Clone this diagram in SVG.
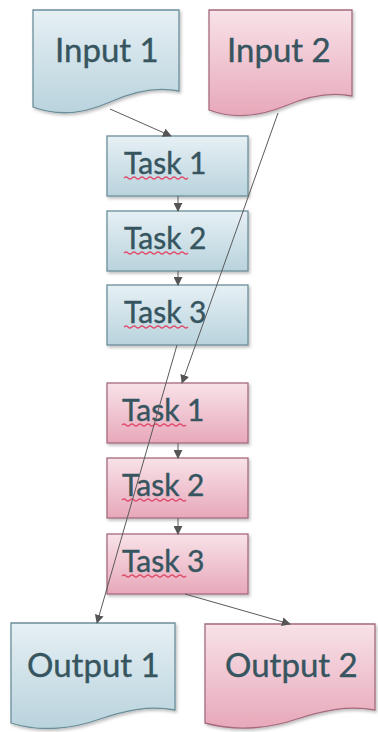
<svg xmlns="http://www.w3.org/2000/svg" width="378" height="732" viewBox="0 0 378 732">
<defs>
<linearGradient id="gb" x1="0" y1="0" x2="0" y2="1"><stop offset="0" stop-color="#e6f0f4"/><stop offset="1" stop-color="#b9d3dd"/></linearGradient>
<linearGradient id="gr" x1="0" y1="0" x2="0" y2="1"><stop offset="0" stop-color="#f8e2e8"/><stop offset="1" stop-color="#e7a8ba"/></linearGradient>
<filter id="sh" x="-10%" y="-10%" width="125%" height="125%"><feDropShadow dx="1.5" dy="2" stdDeviation="1.5" flood-color="#000" flood-opacity="0.25"/></filter>
<marker id="ah" viewBox="0 0 10 10" refX="9" refY="5" markerWidth="9" markerHeight="9" orient="auto" markerUnits="userSpaceOnUse"><path d="M0,0 L10,5 L0,10 Z" fill="#555"/></marker>
<style>
.b{fill:url(#gb);stroke:#6b8e9a;stroke-width:1.3;filter:url(#sh)}
.r{fill:url(#gr);stroke:#a56a7e;stroke-width:1.3;filter:url(#sh)}
.t{font-family:Lato,"Open Sans","Liberation Sans",sans-serif;fill:#36555f;stroke:#36555f;stroke-width:0.4}
.big{font-size:33px}
.tk{font-size:30px}
.sq{fill:none;stroke:#e0506e;stroke-width:1.4}
.c{fill:none;stroke:#5a5a5a;stroke-width:1;marker-end:url(#ah)}
</style>
</defs>
<g id="input1"><path class="b" d="M33,10 H179 V91 C155,86 132,92 110,102 C88,112 62,118 33,107 Z"/><text class="t big" x="55" y="62">Input 1</text></g>
<g id="input2"><path class="r" d="M209,10 H352 V96 C328,91 306,97 285,106 C263,115 236,120 209,110 Z"/><text class="t big" x="227" y="62">Input 2</text></g>
<g id="btask1"><rect class="b" x="107" y="136" width="141" height="60"/><text class="t tk" x="124" y="174">Task 1</text><path class="sq" d="M124,178 q2,-2 4,0 t4,0 t4,0 t4,0 t4,0 t4,0 t4,0 t4,0 t4,0 t4,0 t4,0 t4,0 t4,0 t4,0 t4,0 t4,0"/></g>
<g id="btask2"><rect class="b" x="107" y="211" width="141" height="60"/><text class="t tk" x="124" y="249">Task 2</text><path class="sq" d="M124,253 q2,-2 4,0 t4,0 t4,0 t4,0 t4,0 t4,0 t4,0 t4,0 t4,0 t4,0 t4,0 t4,0 t4,0 t4,0 t4,0 t4,0"/></g>
<g id="btask3"><rect class="b" x="107" y="285" width="141" height="60"/><text class="t tk" x="124" y="323">Task 3</text><path class="sq" d="M124,327 q2,-2 4,0 t4,0 t4,0 t4,0 t4,0 t4,0 t4,0 t4,0 t4,0 t4,0 t4,0 t4,0 t4,0 t4,0 t4,0 t4,0"/></g>
<g id="rtask1"><rect class="r" x="107" y="383" width="141" height="60"/><text class="t tk" x="122" y="421">Task 1</text><path class="sq" d="M122,425 q2,-2 4,0 t4,0 t4,0 t4,0 t4,0 t4,0 t4,0 t4,0 t4,0 t4,0 t4,0 t4,0 t4,0 t4,0 t4,0 t4,0"/></g>
<g id="rtask2"><rect class="r" x="107" y="458" width="141" height="60"/><text class="t tk" x="122" y="496">Task 2</text><path class="sq" d="M122,500 q2,-2 4,0 t4,0 t4,0 t4,0 t4,0 t4,0 t4,0 t4,0 t4,0 t4,0 t4,0 t4,0 t4,0 t4,0 t4,0 t4,0"/></g>
<g id="rtask3"><rect class="r" x="107" y="534" width="141" height="60"/><text class="t tk" x="122" y="572">Task 3</text><path class="sq" d="M122,576 q2,-2 4,0 t4,0 t4,0 t4,0 t4,0 t4,0 t4,0 t4,0 t4,0 t4,0 t4,0 t4,0 t4,0 t4,0 t4,0 t4,0"/></g>
<g id="output1"><path class="b" d="M11,623 H175 V710 C148,705 124,711 100,719 C75,728 42,733 11,723 Z"/><text class="t big" x="27" y="677">Output 1</text></g>
<g id="output2"><path class="r" d="M205,624 H375 V710 C347,705 322,711 297,719 C271,728 237,732 205,723 Z"/><text class="t big" x="225" y="677">Output 2</text></g>
<g id="connectors">
<path class="c" d="M110,109 L171,136"/>
<path class="c" d="M178,196 L178,211"/>
<path class="c" d="M178,271 L178,285"/>
<path class="c" d="M278,113 L182,383"/>
<path class="c" d="M177,345 L97,623"/>
<path class="c" d="M178,443 L178,458"/>
<path class="c" d="M178,518 L178,534"/>
<path class="c" d="M185,594 L290,624"/>
</g>
</svg>
